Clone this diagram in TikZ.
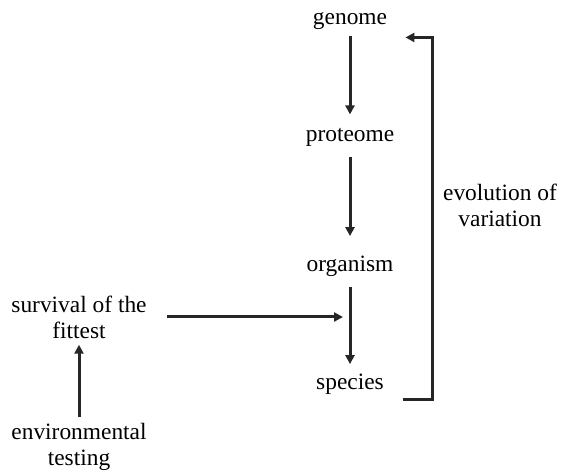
\documentclass[tikz,border=0pt]{standalone}
\usepackage{fontspec}
\setmainfont{Liberation Serif}
\usetikzlibrary{arrows.meta}
\usetikzlibrary{positioning}
\tikzset{
    Label/.style = {align=center, inner sep=2pt, font=\fontsize{11.7}{13}\selectfont}
}
\tikzset{
    Edge/.style = {draw=black!85, line width=1.5pt, -{Triangle[length=4.5pt,width=4.5pt]}}
}

\begin{document}
\begin{tikzpicture}[
    x=0.5pt, y=-0.5pt
]
\useasboundingbox (0,0) rectangle (562,474);

\node[Label, anchor=base] at (350,25) (genome) {genome};
\node[Label, anchor=base] at (350,142) (proteome) {proteome};
\node[Label, anchor=base] at (350,272) (organism) {organism};
\node[Label, anchor=base] at (350,390) (species) {species};
\node[Label] at (79,317) (survival) {survival of the\\fittest};
\node[Label] at (79,447) (envtest) {environmental\\testing};
\node[Label] at (500,205) (evolution) {evolution of\\variation};
\coordinate (merge) at (343,317);

\path (genome) edge [Edge, shorten <=1pt, shorten >=5pt] (proteome);
\path (proteome) edge [Edge, shorten <=3pt, shorten >=8pt] (organism);
\path (organism) edge [Edge, shorten <=3pt, shorten >=3pt] (species);
\path (envtest) edge [Edge, shorten <=1pt, shorten >=1pt] (survival);
\draw[Edge, shorten <=8pt] (survival.east |- merge) -- (merge);
\draw[Edge] ([xshift=7.5pt]species.south east) -- ++(29,0)
    |- ([xshift=7pt,yshift=-1.5pt]genome.south east);
\end{tikzpicture}
\end{document}
